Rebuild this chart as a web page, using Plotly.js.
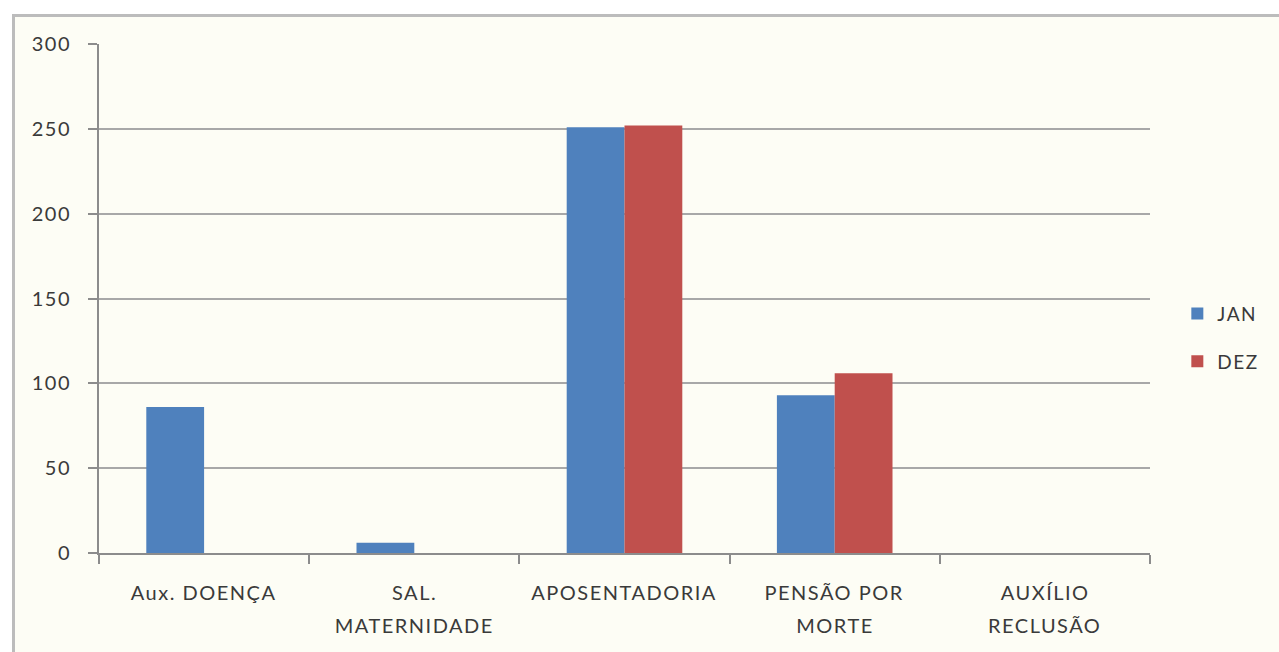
<!DOCTYPE html>
<html>
<head>
<meta charset="utf-8">
<script src="https://cdn.plot.ly/plotly-3.0.1.min.js"></script>
<style>
  html, body { margin: 0; padding: 0; background: #ffffff; }
  #bg { position: absolute; left: 12px; top: 14px; right: 0; bottom: 0;
        background: #fdfdf5; border-left: 3px solid #bcbcbc; border-top: 3px solid #bcbcbc; }
  #chart { position: absolute; left: 0; top: 0; width: 1279px; height: 652px; }
  #chart text { letter-spacing: 1.5px; }
</style>
</head>
<body>
<div id="bg"></div>
<div id="chart"></div>
<script>
// Data
var categories = ['Aux. DOENÇA', 'SAL.<br>MATERNIDADE', 'APOSENTADORIA', 'PENSÃO POR<br>MORTE', 'AUXÍLIO<br>RECLUSÃO'];
var seriesNames = ['JAN', 'DEZ'];
var janValues = [86, 6, 251, 93, 0];
var dezValues = [0, 0, 252, 106, 0];
var yTicks = [0, 50, 100, 150, 200, 250, 300];

var FONT = 'Lato, "Open Sans", sans-serif';
var TXT = '#3a3a3a';

var traces = [
  { type: 'bar', name: seriesNames[0], x: categories, y: janValues,
    marker: { color: '#4f81bd' }, legendgroup: 'a', hoverinfo: 'x+y' },
  { type: 'bar', name: seriesNames[1], x: categories, y: dezValues,
    marker: { color: '#c0504d' }, legendgroup: 'b', hoverinfo: 'x+y' }
];

// category labels drawn line by line (wide line spacing as in reference)
var annotations = [];
categories.forEach(function (c) {
  var lines = c.split('<br>');
  lines.forEach(function (ln, i) {
    annotations.push({
      x: c, xref: 'x', y: 0, yref: 'paper', text: ln, showarrow: false,
      xanchor: 'center', yanchor: 'middle', yshift: -39 - 33 * i,
      font: { family: FONT, size: 20, color: TXT }
    });
  });
});

var layout = {
  width: 1279, height: 652,
  margin: { l: 99, r: 129, t: 44, b: 99 },
  paper_bgcolor: 'rgba(0,0,0,0)',
  plot_bgcolor: 'rgba(0,0,0,0)',
  barmode: 'group',
  bargap: 0.45,
  bargroupgap: 0,
  font: { family: FONT, size: 20, color: TXT },
  xaxis: {
    type: 'category',
    showticklabels: false,
    showline: true, linecolor: '#8c8c8c', linewidth: 2,
    ticks: 'outside', tickson: 'boundaries', ticklen: 9, tickwidth: 2, tickcolor: '#8c8c8c',
    showgrid: false, zeroline: false, fixedrange: true
  },
  yaxis: {
    range: [0, 300],
    tickvals: yTicks,
    ticktext: yTicks.map(String),
    showline: true, linecolor: '#8c8c8c', linewidth: 2,
    ticks: 'outside', ticklen: 9, tickwidth: 2, tickcolor: '#8c8c8c',
    ticklabelstandoff: 13,
    showgrid: true, gridcolor: '#a8a8a8', gridwidth: 2,
    zeroline: false, fixedrange: true,
    tickfont: { family: FONT, size: 20, color: TXT }
  },
  showlegend: true,
  legend: {
    x: 1.026, xanchor: 'left', y: 0.423, yanchor: 'middle',
    bgcolor: 'rgba(0,0,0,0)', tracegroupgap: 20, itemwidth: 30,
    font: { family: FONT, size: 19, color: TXT }
  },
  annotations: annotations
};

Plotly.newPlot('chart', traces, layout, { displayModeBar: false, staticPlot: true });
</script>
</body>
</html>
